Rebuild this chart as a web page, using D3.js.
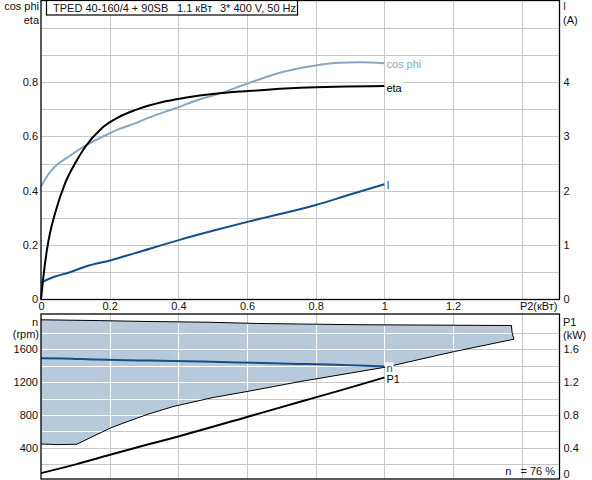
<!DOCTYPE html>
<html>
<head>
<meta charset="utf-8">
<script src="https://cdn.jsdelivr.net/npm/d3@7"></script>
<style>
  body { margin: 0; background: #fff; }
  text { font-family: "Liberation Sans", Arial, sans-serif; font-size: 11px; fill: #111; }
</style>
</head>
<body>
<script>
// pump curve sheet
var titleParts = ['TPED 40-160/4 + 90SB', '1.1 кВт', '3* 400 V, 50 Hz'];

// top panel, x = P2 (kW)
var cosP2  = [0, 0.02, 0.04, 0.08, 0.128, 0.177, 0.225, 0.274, 0.322, 0.39, 0.463, 0.506, 0.604, 0.706, 0.803, 0.87, 0.93, 1.0];
var cosPhi = [0.415, 0.458, 0.488, 0.525, 0.565, 0.597, 0.626, 0.648, 0.673, 0.703, 0.737, 0.752, 0.796, 0.838, 0.862, 0.871, 0.873, 0.869];

var etaP2 = [0, 0.007, 0.017, 0.026, 0.041, 0.07, 0.099, 0.128, 0.177, 0.225, 0.274, 0.351, 0.419, 0.506, 0.604, 0.755, 1.0];
var eta   = [0, 0.083, 0.18, 0.243, 0.317, 0.427, 0.5, 0.56, 0.63, 0.67, 0.697, 0.726, 0.742, 0.757, 0.767, 0.779, 0.786];

var curP2 = [0, 0.041, 0.08, 0.128, 0.204, 0.274, 0.401, 0.506, 0.604, 0.803, 0.9, 1.0];
var cur   = [0.31, 0.42, 0.49, 0.6, 0.72, 0.85, 1.09, 1.27, 1.43, 1.74, 1.93, 2.12];

// bottom panel
var speedP2 = [0, 0.064, 0.162, 0.311, 0.471, 0.573, 0.724, 0.874, 0.965, 1.0];
var speed   = [1492, 1488, 1475, 1462, 1450, 1440, 1425, 1410, 1395, 1390];

var p1P2 = [0, 0.104, 0.201, 0.308, 0.4, 0.6, 0.755, 0.877, 1.0];
var p1   = [0.09, 0.2, 0.313, 0.435, 0.537, 0.775, 0.96, 1.105, 1.256];

var envTopP2 = [0, 0.17, 0.30, 0.49, 0.63, 0.92, 1.37, 1.372];
var envTopN  = [1960, 1950, 1940, 1930, 1915, 1900, 1890, 1805];
var envBotP2 = [0, 0.05, 0.104, 0.201, 0.239, 0.309, 0.385, 0.501, 0.6, 0.755, 1.003, 1.204, 1.377];
var envBotN  = [445, 438, 442, 638, 699, 805, 902, 1012, 1085, 1207, 1382, 1573, 1723];

var xTicks = [0, 0.2, 0.4, 0.6, 0.8, 1, 1.2];
var effTicks = [0, 0.2, 0.4, 0.6, 0.8];
var curTicks = [0, 1, 2, 3, 4];
var rpmTicks = [400, 800, 1200, 1600];
var kwTicks = [0, 0.4, 0.8, 1.2, 1.6];
var effNote = 'n   = 76 %';

var W = 592, H = 480;
var L = 41, R = 559.5;
var topT = 0.5, topB = 299.5, botT = 314, botB = 479;

var svg = d3.select('body').append('svg').attr('width', W).attr('height', H);

var x = d3.scaleLinear().domain([0, 1.51]).range([L, R]);
var yEff = d3.scaleLinear().domain([0, 1.1]).range([299.3, 0.65]);
var yCur = d3.scaleLinear().domain([0, 5.5]).range([299.3, 0.65]);
var yRpm = d3.scaleLinear().domain([0, 2000]).range([480.5, 316.5]);
var yKw  = d3.scaleLinear().domain([0, 2]).range([480.5, 316.5]);

var fmt = d3.format('~g');
var gridCol = '#c8c8c8';
var blueDark = '#12508a';
var blueLight = '#88a7c4';
var vGrid = [0.2, 0.4, 0.6, 0.8, 1.0, 1.2, 1.4];
var topGrid = [0.1, 0.2, 0.3, 0.4, 0.5, 0.6, 0.7, 0.8, 0.9, 1.0];
var botGrid = [200, 400, 600, 800, 1000, 1200, 1400, 1600, 1800];

function zip(a, b) { return a.map(function (d, i) { return [d, b[i]]; }); }

// grid lines as 1px filled rects
function vBar(v, y0, y1, color) {
  svg.append('rect').attr('x', Math.round(x(v))).attr('y', y0).attr('width', 1).attr('height', y1 - y0).attr('fill', color);
}
function hBar(yv, x0, x1, color) {
  svg.append('rect').attr('x', x0).attr('y', Math.round(yv)).attr('width', x1 - x0).attr('height', 1).attr('fill', color);
}

function styleAxis(a) {
  a.select('.domain').remove();
  a.selectAll('text').style('font-family', '"Liberation Sans", Arial, sans-serif').style('font-size', '11px').style('fill', '#111');
}

function endLabel(txt, lx, ly, color) {
  var t = svg.append('text').attr('x', lx + 2).attr('y', ly).attr('dy', '0.35em').text(txt).style('fill', color);
  var bb = t.node().getBBox();
  svg.insert('rect', function () { return t.node(); })
    .attr('x', bb.x - 1).attr('y', bb.y).attr('width', bb.width + 2).attr('height', bb.height).attr('fill', '#fff');
}

// ---- top panel ----
vGrid.forEach(function (v) { vBar(v, topT, topB, gridCol); });
topGrid.forEach(function (v) { hBar(yEff(v), L, R, gridCol); });

var lineEff = d3.line().curve(d3.curveMonotoneX).x(function (d) { return x(d[0]); }).y(function (d) { return yEff(d[1]); });
var lineCur = d3.line().curve(d3.curveMonotoneX).x(function (d) { return x(d[0]); }).y(function (d) { return yCur(d[1]); });

svg.append('path').attr('d', lineCur(zip(curP2, cur)))
  .attr('fill', 'none').attr('stroke', blueDark).attr('stroke-width', 2);
svg.append('path').attr('d', lineEff(zip(cosP2, cosPhi)))
  .attr('fill', 'none').attr('stroke', blueLight).attr('stroke-width', 2);
svg.append('path').attr('d', lineEff(zip(etaP2, eta)))
  .attr('fill', 'none').attr('stroke', '#000').attr('stroke-width', 2);

endLabel('cos phi', x(1.0), yEff(cosPhi[cosPhi.length - 1]) + 1, blueLight);
endLabel('eta', x(1.0), yEff(eta[eta.length - 1]) + 2, '#000');
endLabel('I', x(1.0), yCur(cur[cur.length - 1]) + 1, blueDark);

svg.append('rect').attr('x', L).attr('y', topT).attr('width', R - L).attr('height', topB - topT)
  .attr('fill', 'none').attr('stroke', '#000').attr('stroke-width', 1.3);

var axL = svg.append('g').attr('transform', 'translate(' + L + ',0)')
  .call(d3.axisLeft(yEff).tickValues(effTicks).tickFormat(fmt).tickSize(0).tickPadding(3));
var axR = svg.append('g').attr('transform', 'translate(' + R + ',0)')
  .call(d3.axisRight(yCur).tickValues(curTicks).tickFormat(fmt).tickSize(0).tickPadding(4));
var axB = svg.append('g').attr('transform', 'translate(0,' + topB + ')')
  .call(d3.axisBottom(x).tickValues(xTicks).tickFormat(fmt).tickSize(0).tickPadding(3));
[axL, axR, axB].forEach(styleAxis);
svg.append('text').attr('x', R - 2).attr('y', topB + 3).attr('dy', '0.71em').attr('text-anchor', 'end').text('P2(кВт)');

svg.append('text').attr('x', 39).attr('y', 10).attr('text-anchor', 'end').text('cos phi');
svg.append('text').attr('x', 39).attr('y', 24).attr('text-anchor', 'end').text('eta');
svg.append('text').attr('x', 563).attr('y', 10).text('I').style('fill', '#4a1e5a');
svg.append('text').attr('x', 563).attr('y', 24).text('(A)');

// title box
svg.append('rect').attr('x', 46.5).attr('y', 0.5).attr('width', 251).attr('height', 14.5)
  .attr('fill', '#fff').attr('stroke', '#000').attr('stroke-width', 1.2);
var titleX = [53, 177, 220];
titleParts.forEach(function (s, i) {
  svg.append('text').attr('x', titleX[i]).attr('y', 11.5).text(s);
});

// ---- bottom panel ----
vGrid.forEach(function (v) { vBar(v, botT, botB, gridCol); });
botGrid.forEach(function (r) { hBar(yRpm(r), L, R, gridCol); });

var envPts = zip(envTopP2, envTopN).concat(zip(envBotP2, envBotN).reverse());
var envLine = d3.line().x(function (d) { return x(d[0]); }).y(function (d) { return yRpm(d[1]); });
svg.append('path').attr('d', envLine(envPts) + 'Z').attr('fill', '#b8c9da');

// grid shows white through the operating range: cut each grid line to the envelope
var topAt = d3.scaleLinear().domain(envTopP2).range(envTopN);
var botAt = d3.scaleLinear().domain(envBotP2).range(envBotN);
var p2AtBot = d3.scaleLinear().domain(envBotN.slice(2)).range(envBotP2.slice(2)).clamp(true);
vGrid.forEach(function (v) {
  if (v > envTopP2[envTopP2.length - 1]) return;
  vBar(v, yRpm(topAt(v)) + 1, yRpm(botAt(v)) - 1, '#fff');
});
botGrid.forEach(function (r) {
  if (r <= envBotN[0]) return;
  var end = r >= envBotN[envBotN.length - 1] ? envTopP2[envTopP2.length - 1] : p2AtBot(r);
  hBar(yRpm(r), L + 1, x(end) - 1, '#fff');
});

svg.append('path').attr('d', envLine(envPts))
  .attr('fill', 'none').attr('stroke', '#000').attr('stroke-width', 1);

var lineRpm = d3.line().curve(d3.curveMonotoneX).x(function (d) { return x(d[0]); }).y(function (d) { return yRpm(d[1]); });
var lineKw = d3.line().curve(d3.curveMonotoneX).x(function (d) { return x(d[0]); }).y(function (d) { return yKw(d[1]); });
svg.append('path').attr('d', lineRpm(zip(speedP2, speed)))
  .attr('fill', 'none').attr('stroke', blueDark).attr('stroke-width', 2);
svg.append('path').attr('d', lineKw(zip(p1P2, p1)))
  .attr('fill', 'none').attr('stroke', '#000').attr('stroke-width', 2);

endLabel('n', x(1.0), yRpm(speed[speed.length - 1]) + 2, blueDark);
endLabel('P1', x(1.0), yKw(p1[p1.length - 1]) + 2, '#000');

svg.append('rect').attr('x', L).attr('y', botT).attr('width', R - L).attr('height', botB - botT)
  .attr('fill', 'none').attr('stroke', '#000').attr('stroke-width', 1.3);

var axL2 = svg.append('g').attr('transform', 'translate(' + L + ',0)')
  .call(d3.axisLeft(yRpm).tickValues(rpmTicks).tickFormat(d3.format('d')).tickSize(0).tickPadding(3));
var axR2 = svg.append('g').attr('transform', 'translate(' + R + ',0)')
  .call(d3.axisRight(yKw).tickValues(kwTicks).tickFormat(fmt).tickSize(0).tickPadding(4));
[axL2, axR2].forEach(styleAxis);
// the 0 at the very bottom is pushed up so it stays inside the picture
axR2.selectAll('.tick').filter(function (d) { return d === 0; }).select('text').attr('dy', '-0.3em');

svg.append('text').attr('x', 38).attr('y', 326).attr('text-anchor', 'end').text('n');
svg.append('text').attr('x', 39).attr('y', 338).attr('text-anchor', 'end').text('(rpm)');
svg.append('text').attr('x', 563).attr('y', 326).text('P1');
svg.append('text').attr('x', 563).attr('y', 339).text('(kW)');

svg.append('text').attr('x', 555).attr('y', 475).attr('text-anchor', 'end')
  .style('white-space', 'pre').text(effNote);
</script>
</body>
</html>
